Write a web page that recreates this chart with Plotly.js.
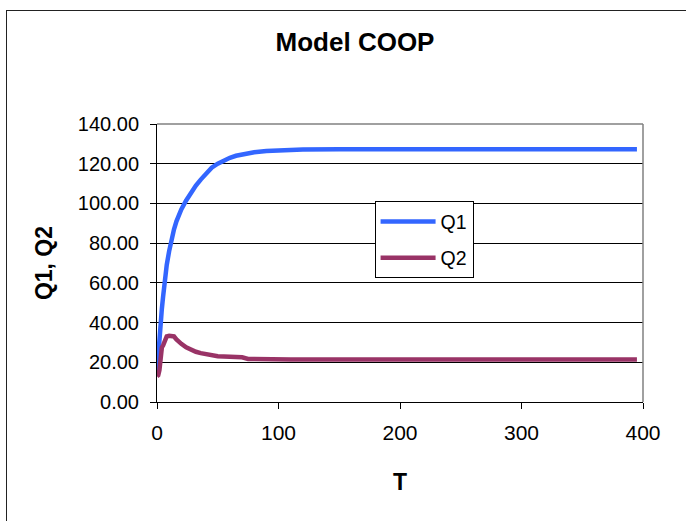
<!DOCTYPE html>
<html>
<head>
<meta charset="utf-8">
<script src="https://cdn.plot.ly/plotly-3.0.1.min.js"></script>
<style>
html,body{margin:0;padding:0;overflow:hidden;background:#fff;}
#frame{position:absolute;left:6px;top:10px;width:720px;height:560px;border:1px solid #222;box-sizing:border-box;}
#chart{position:absolute;left:0;top:0;width:686px;height:521px;}
</style>
</head>
<body>
<div id="frame"></div>
<div id="chart"></div>
<script>
const T  = [0,1,2,3,4,5,6,7,8,10,12,14,16,18,20,24,28,32,36,40,45,50,55,60,65,70,75,80,90,100,110,120,150,200,250,300,350,395];
const Q1 = [15,25,33,40,47,53,60,65,69,76,82,87,91,94,97,101.5,105.5,109,112,115,118,120,121.8,123,124,124.7,125.2,125.8,126.4,126.8,127,127.2,127.3,127.3,127.3,127.3,127.3,127.3];
const Q2 = [13,13.5,16,26,27.5,28.5,30,32,33,33.3,33.3,33,31.5,30.2,29.3,27.5,26.2,25.3,24.6,24,23.4,23,22.9,22.7,22.6,22.5,21.7,21.6,21.5,21.5,21.4,21.4,21.4,21.4,21.4,21.4,21.4,21.4];
const seriesNames = ['Q1','Q2'];
const chartTitle = 'Model COOP';
const xTitle = 'T';
const yTitle = 'Q1, Q2';

const FONT = 'Liberation Sans, Arial, Helvetica, sans-serif';

const traces = [
  {x: T, y: Q1, name: seriesNames[0], type: 'scatter', mode: 'lines', legendgroup: 'a',
   line: {color: '#3366FF', width: 4.5}},
  {x: T, y: Q2, name: seriesNames[1], type: 'scatter', mode: 'lines', legendgroup: 'b',
   line: {color: '#993366', width: 4.5}}
];

const layout = {
  width: 686, height: 521,
  margin: {l: 156.5, r: 43, t: 123.5, b: 118.5, pad: 0},
  paper_bgcolor: 'rgba(0,0,0,0)',
  plot_bgcolor: '#fff',
  font: {family: FONT, color: '#000', size: 20},
  title: {text: '<b>' + chartTitle + '</b>', font: {family: FONT, size: 26, color: '#000'},
          x: 355/686, xanchor: 'center', xref: 'container', y: 1 - 42/521, yanchor: 'middle', yref: 'container'},
  xaxis: {
    range: [0, 400], dtick: 100, tick0: 0,
    showline: true, linecolor: '#000', linewidth: 1,
    ticks: 'outside', ticklen: 6, tickcolor: '#000', tickwidth: 1,
    showgrid: false, zeroline: false,
    tickfont: {family: FONT, size: 21, color: '#000'},
    ticklabelstandoff: 6,
    title: {text: '<b>' + xTitle + '</b>', font: {family: FONT, size: 23, color: '#000'}, standoff: 30}
  },
  yaxis: {
    range: [0, 140], dtick: 20, tick0: 0, tickformat: '.2f',
    showline: true, linecolor: '#000', linewidth: 1,
    ticks: 'outside', ticklen: 6, tickcolor: '#000', tickwidth: 1,
    showgrid: true, gridcolor: '#000', gridwidth: 1, zeroline: false,
    tickfont: {family: FONT, size: 20, color: '#000'},
    ticklabelstandoff: 7,
    title: {text: '<b>' + yTitle + '</b>', font: {family: FONT, size: 23, color: '#000'}, standoff: 18}
  },
  showlegend: true,
  legend: {
    x: (374.3-156.5)/486.5, y: (402.5-201)/279, xanchor: 'left', yanchor: 'top',
    bgcolor: '#fff', bordercolor: '#000', borderwidth: 1,
    font: {family: FONT, size: 19.5, color: '#000'},
    itemwidth: 55, tracegroupgap: 8, traceorder: 'grouped'
  },
  shapes: [
    {type: 'line', xref: 'paper', yref: 'paper', x0: 0, x1: 1, y0: 1, y1: 1, line: {color: '#808080', width: 1.5}},
    {type: 'line', xref: 'paper', yref: 'paper', x0: 1, x1: 1, y0: 0, y1: 1, line: {color: '#808080', width: 1.5}}
  ]
};

Plotly.newPlot('chart', traces, layout, {displayModeBar: false, staticPlot: true});
</script>
</body>
</html>
